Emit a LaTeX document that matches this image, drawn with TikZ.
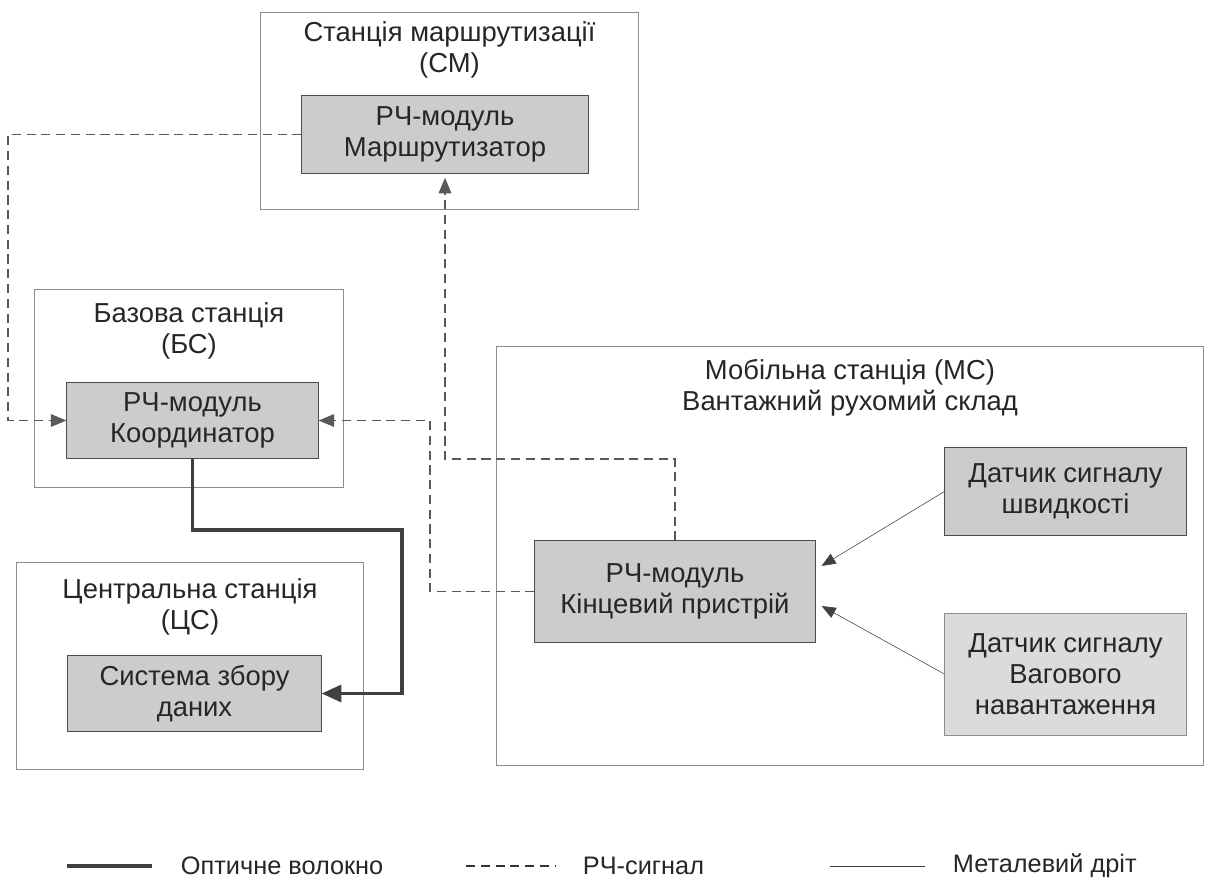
\documentclass[tikz,border=0pt]{standalone}
\usepackage{fontspec}
\setmainfont{Liberation Sans}
\usetikzlibrary{arrows.meta}

\begin{document}
\begin{tikzpicture}[x=0.025cm, y=-0.025cm,
  font=\fontsize{19.5}{22}\selectfont,
  station/.style={draw=black!45, line width=0.7pt, inner sep=0pt},
  module/.style={draw=black!70, fill=black!20, line width=0.7pt, inner sep=0pt, align=center, text=black!85},
  title/.style={align=center, text=black!85},
  rf/.style={draw=black!65, line width=0.8pt, dash pattern=on 6.5pt off 4pt},
  rfarrow/.style={rf, -{Triangle[length=11pt,width=9pt]}},
  wire/.style={draw=black!75, line width=0.4pt, -{Triangle[length=10pt,width=8pt]}, shorten >=5pt},
  fibre/.style={draw=black!75, line width=2.4pt, -{Triangle[length=14pt,width=12pt]}},
  legend/.style={anchor=west, font=\fontsize{18}{21}\selectfont, text=black!85}]
\useasboundingbox (0,0) rectangle (1208,890);

\node[station, minimum width=9.43cm, minimum height=4.9cm] (sm) at (449.5,111) {};
\node[title] (smTitle) at (449.5,50) {Станція маршрутизації\\(СМ)};
\node[module, minimum width=7.15cm, minimum height=1.93cm] (router) at (445,134.5) {РЧ-модуль\\Маршрутизатор};

\node[station, minimum width=7.7cm, minimum height=4.93cm] (bs) at (189,388.5) {};
\node[title] (bsTitle) at (189,331) {Базова станція\\(БС)};
\node[module, minimum width=6.28cm, minimum height=1.88cm] (coord) at (192.5,420.5) {РЧ-модуль\\Координатор};

\node[station, minimum width=8.65cm, minimum height=5.15cm] (cs) at (190,666) {};
\node[title] (csTitle) at (190,607) {Центральна станція\\(ЦС)};
\node[module, minimum width=6.33cm, minimum height=1.88cm] (dbs) at (194.5,693.5) {Система збору\\даних};

\node[station, minimum width=17.65cm, minimum height=10.45cm] (ms) at (850,556) {};
\node[title] (msTitle) at (850,388) {Мобільна станція (МС)\\Вантажний рухомий склад};
\node[module, minimum width=7cm, minimum height=2.53cm] (endDev) at (675,591.5) {РЧ-модуль\\Кінцевий пристрій};
\node[module, minimum width=6.03cm, minimum height=2.18cm] (speed) at (1065.5,491.5) {Датчик сигналу\\швидкості};
\node[module, draw=black!45, fill=black!14, minimum width=6.03cm, minimum height=3.05cm] (weight) at (1065.5,674) {Датчик сигналу\\Вагового\\навантаження};

\coordinate (rfL) at (8,0);
\coordinate (rfM) at (430,0);
\coordinate (rfT) at (0,459);
\coordinate (fib) at (402,530);

\draw[rfarrow] (router.west) -- (router.west -| rfL) |- (coord.west);
\draw[rfarrow] (endDev.west) -- (endDev.west -| rfM) |- (coord.east);
\draw[rfarrow, shorten >=3pt] (endDev.north) -- (endDev.north |- rfT) -| (router.south);
\draw[fibre] (coord.south) |- (fib) |- (dbs.east);
\draw[wire] (speed.west) -- ([yshift=-0.73cm]endDev.north east);
\draw[wire] (weight.west) -- ([yshift=1cm]endDev.south east);

\coordinate (lgOptA) at (67,866);
\coordinate (lgOptB) at (152,866);
\coordinate (lgRfA) at (466,866);
\coordinate (lgRfB) at (555,866);
\coordinate (lgWireA) at (830,866);
\coordinate (lgWireB) at (925,866);
\draw[draw=black!75, line width=2.4pt] (lgOptA) -- (lgOptB);
\draw[rf, draw=black!80] (lgRfA) -- (lgRfB);
\draw[draw=black!75, line width=0.6pt] (lgWireA) -- (lgWireB);
\node[legend] (lgOpt) at (176,866) {Оптичне волокно};
\node[legend] (lgRf) at (578,866) {РЧ-сигнал};
\node[legend] (lgWire) at (948,866) {Металевий дріт};
\end{tikzpicture}
\end{document}
